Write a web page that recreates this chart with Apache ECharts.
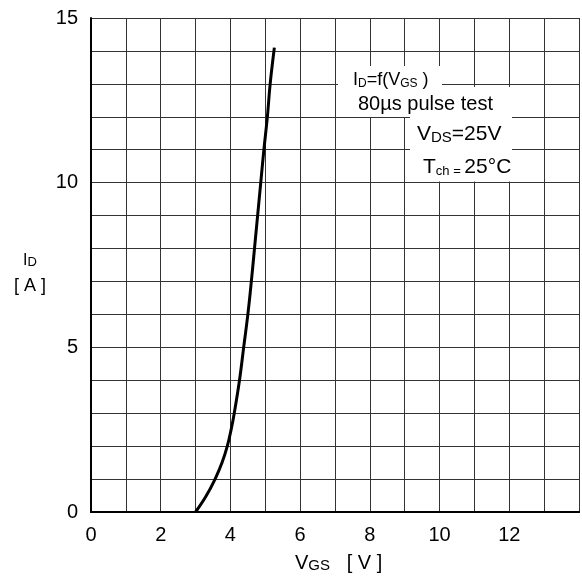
<!DOCTYPE html>
<html>
<head>
<meta charset="utf-8">
<script src="https://cdn.jsdelivr.net/npm/echarts@6/dist/echarts.min.js"></script>
<style>
html,body{margin:0;padding:0;background:#fff;}
#c{width:582px;height:576px;}
</style>
</head>
<body>
<div id="c"></div>
<script>
// Transfer characteristic I_D = f(V_GS)
const vgs = [3.0, 3.29, 3.56, 3.76, 3.91, 4.02, 4.11, 4.26, 4.38, 4.50, 4.60, 4.69, 4.78, 4.87, 4.96, 5.06, 5.14, 5.26];
const idValues = [0, 0.46, 1, 1.5, 2, 2.5, 3, 4, 5, 6, 7, 8, 9, 10, 11, 12, 13, 14.1];
const xTickLabels = [0, 2, 4, 6, 8, 10, 12];
const yTickLabels = [0, 5, 10, 15];

const F = '"Liberation Sans", Arial, Helvetica, sans-serif';
const data = vgs.map((v, i) => [v, idValues[i]]);

function tok(size, lh, va) {
  const o = { fontFamily: F, fontSize: size, lineHeight: lh, fill: '#000', color: '#000' };
  if (va) o.verticalAlign = va;
  return o;
}

const chart = echarts.init(document.getElementById('c'), null, { renderer: 'canvas' });

const option = {
  backgroundColor: '#fff',
  animation: false,
  grid: { left: 91, right: 0, top: 18, bottom: 64, containLabel: false },
  xAxis: [{
    type: 'value', min: 0, max: 14, interval: 1,
    axisLine: { show: true, onZero: false, lineStyle: { color: '#000', width: 2 } },
    axisTick: { show: false },
    axisLabel: {
      margin: 13, color: '#000', fontFamily: F, fontSize: 20,
      formatter: v => (xTickLabels.indexOf(v) >= 0 ? String(v) : '')
    },
    splitLine: { show: true, lineStyle: { color: '#333', width: 1 } }
  }, {
    type: 'value', min: 0, max: 14, interval: 1, position: 'top',
    axisLine: { show: true, lineStyle: { color: '#000', width: 2 } },
    axisTick: { show: false }, axisLabel: { show: false }, splitLine: { show: false }
  }],
  yAxis: {
    type: 'value', min: 0, max: 15, interval: 1,
    axisLine: { show: true, onZero: false, lineStyle: { color: '#000', width: 2 } },
    axisTick: { show: false },
    axisLabel: {
      margin: 13, color: '#000', fontFamily: F, fontSize: 20,
      formatter: v => (yTickLabels.indexOf(v) >= 0 ? String(v) : '')
    },
    splitLine: { show: true, lineStyle: { color: '#333', width: 1 } }
  },
  series: [{
    type: 'line', xAxisIndex: 0, data: data, smooth: 0.4, showSymbol: false,
    lineStyle: { color: '#000', width: 3 }, z: 3
  }],
  graphic: [
    // white label background
    { type: 'rect', z: 10, shape: { x: 338, y: 66, width: 104, height: 51 }, style: { fill: '#fff' } },
    { type: 'rect', z: 10, shape: { x: 338, y: 87, width: 174, height: 30 }, style: { fill: '#fff' } },
    { type: 'rect', z: 10, shape: { x: 410, y: 116, width: 102, height: 65.5 }, style: { fill: '#fff' } },
    // annotation lines
    { type: 'text', z: 11, x: 353, y: 80.5, style: {
        text: '{a|I}{s|D}{a|=f(V}{s|GS}{a| )}', align: 'left', verticalAlign: 'middle',
        rich: { a: tok(18, 18), s: tok(12, 11, 'bottom') } } },
    { type: 'text', z: 11, x: 358, y: 104, style: {
        text: '80µs pulse test', align: 'left', verticalAlign: 'middle',
        font: '20px ' + F, fill: '#000' } },
    { type: 'text', z: 11, x: 417, y: 134.5, style: {
        text: '{a|V}{s|DS}{a|=25V}', align: 'left', verticalAlign: 'middle',
        rich: { a: tok(21, 21), s: tok(15, 15, 'bottom') } } },
    { type: 'text', z: 11, x: 423, y: 167.5, style: {
        text: '{a|T}{s|ch}{e| = }{a|25°C}', align: 'left', verticalAlign: 'middle',
        rich: { a: tok(21, 21), s: tok(13, 11, 'bottom'), e: tok(13, 15, 'bottom') } } },
    // y axis name
    { type: 'text', z: 11, x: 30, y: 260.5, style: {
        text: '{a|I}{s|D}', align: 'center', verticalAlign: 'middle',
        rich: { a: tok(16, 16), s: tok(13, 14, 'bottom') } } },
    { type: 'text', z: 11, x: 30, y: 286.5, style: {
        text: '[ A ]', align: 'center', verticalAlign: 'middle',
        font: '18px ' + F, fill: '#000' } },
    // x axis name
    { type: 'text', z: 11, x: 295, y: 563, style: {
        text: '{a|V}{s|GS}{a|   [ V ]}', align: 'left', verticalAlign: 'middle',
        rich: { a: tok(20, 20), s: tok(15, 16, 'bottom') } } }
  ]
};

chart.setOption(option);
</script>
</body>
</html>
